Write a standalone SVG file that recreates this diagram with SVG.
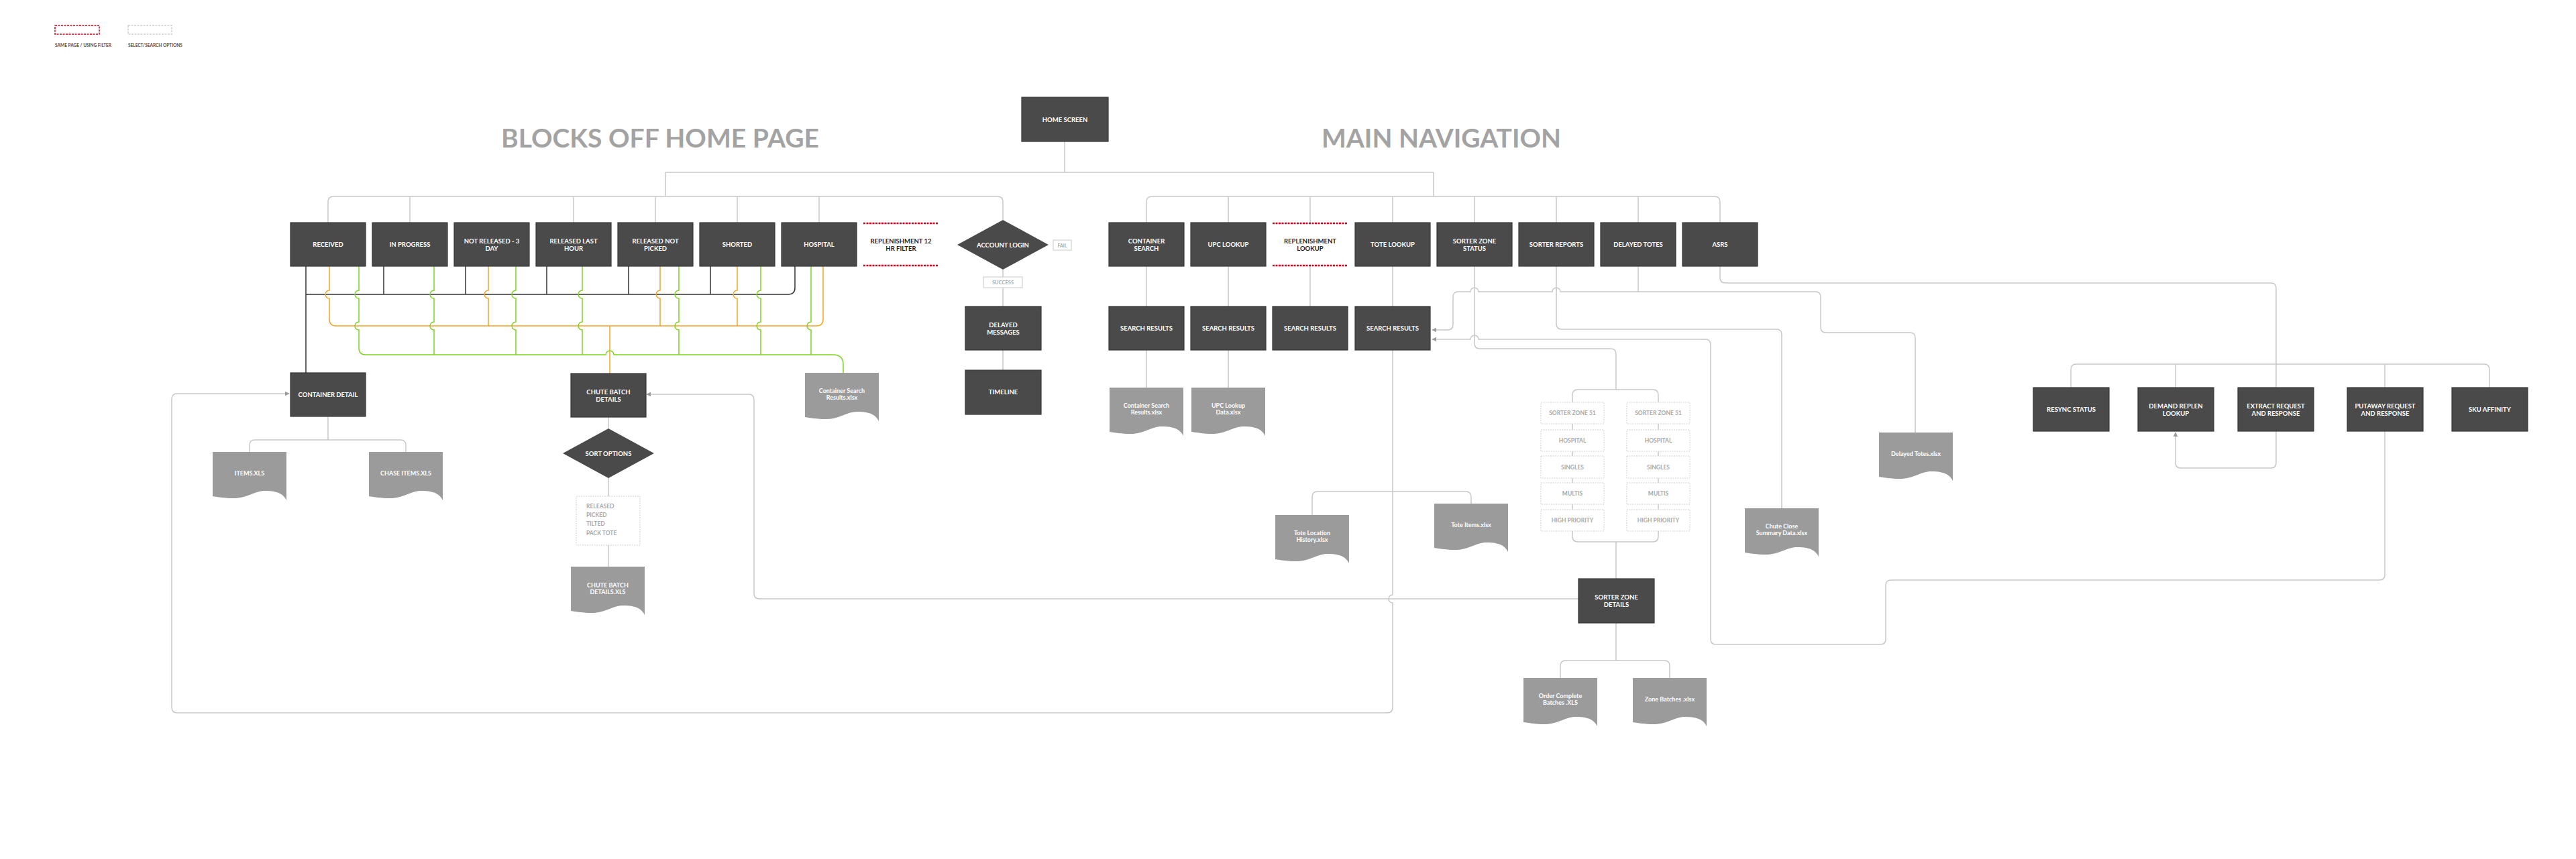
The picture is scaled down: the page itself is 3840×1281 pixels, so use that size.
<svg xmlns="http://www.w3.org/2000/svg" xmlns:xlink="http://www.w3.org/1999/xlink" width="3840" height="1281" viewBox="0 0 3840 1281">
<style>
text{font-family:Lato,"Open Sans","DejaVu Sans",sans-serif;font-weight:700}
.box{fill:#4a4a4a;stroke:#383838;stroke-width:1.2}
.doc{fill:#9b9b9b}
.bt{fill:#fff;font-size:9.5px;text-anchor:middle}
.dt{fill:#fff;font-size:9px;text-anchor:middle}
.rt{fill:#1e1e1e;font-size:9.5px;text-anchor:middle}
.gt{fill:#a8a8a8;font-size:8.5px;text-anchor:middle}
.opt{fill:#a8a8a8;font-size:8.5px}
.title{fill:#a3a3a3;font-size:38px}
.leg{fill:#555;font-size:6.5px}
.red{stroke:#d0021b;stroke-width:2.5;stroke-dasharray:3 1.5;fill:none}
.dash{fill:none;stroke:#cfcfcf;stroke-width:1;stroke-dasharray:2 1.5}
.c{fill:none;stroke:#c8c8c8;stroke-width:1.5}
.k{fill:none;stroke:#333;stroke-width:1.5}
.o{fill:none;stroke:#f5a623;stroke-width:1.5}
.g{fill:none;stroke:#7ed321;stroke-width:1.5}
.tag{fill:#fff;stroke:#d2d2d2;stroke-width:1.2}
</style>
<defs>
<marker id="ar" viewBox="0 0 10 10" refX="9" refY="5" markerWidth="7" markerHeight="7" markerUnits="userSpaceOnUse" orient="auto">
<path d="M0 0 L10 5 L0 10 Z" fill="#9b9b9b"/>
</marker>
<path id="docshape" d="M0 0 H110 V72 C106 64 99 58 78 58 C62 58 52 69 31 69 C18 69 8 67 0 66 Z"/>
</defs>

<!-- legend -->
<g id="legend">
<rect x="82" y="38" width="66" height="13" fill="none" stroke="#d0021b" stroke-width="1.5" stroke-dasharray="3 1.5"/>
<rect x="191" y="38" width="65" height="13" fill="none" stroke="#cfcfcf" stroke-width="1.5" stroke-dasharray="3 1.5"/>
<text class="leg" x="82" y="70">SAME PAGE / USING FILTER</text>
<text class="leg" x="191" y="70">SELECT/SEARCH OPTIONS</text>
</g>

<!-- titles -->
<text class="title" x="747" y="220" textLength="474" lengthAdjust="spacingAndGlyphs">BLOCKS OFF HOME PAGE</text>
<text class="title" x="1970" y="220" textLength="357" lengthAdjust="spacingAndGlyphs">MAIN NAVIGATION</text>

<!-- connectors -->
<g id="connectors">
<!-- gray tree lines -->
<path class="c" d="M1587 211 V257 M992 257 H2137 M992 257 V293 M2137 257 V293"/>
<path class="c" d="M489 332 V301 Q489 293 497 293 H1487 Q1495 293 1495 301 V328 M611 293 V332 M855 293 V332 M977 293 V332 M1099 293 V332 M1221 293 V332"/>
<path class="c" d="M1709 332 V301 Q1709 293 1717 293 H2556 Q2564 293 2564 301 V332 M1831 293 V332 M1953 293 V332 M2076 293 V332 M2198 293 V332 M2320 293 V332 M2442 293 V332"/>
<path class="c" d="M1495 402 V413 M1495 429 V457 M1495 522 V552"/>
<path class="c" d="M1709 397 V457 M1831 397 V457 M1953 397 V457 M2076 397 V457 M1709 522 V578 M1831 522 V578"/>
<path class="c" marker-end="url(#ar)" d="M2076 522 V887 A6 6 0 0 0 2076 899 V1055 Q2076 1063 2068 1063 H264 Q256 1063 256 1055 V595 Q256 587 264 587 H431"/>
<path class="c" d="M1956 768 V741 Q1956 733 1964 733 H2185 Q2193 733 2193 741 V751"/>
<path class="c" marker-end="url(#ar)" d="M2353 893 H1132 Q1124 893 1124 885 V596 Q1124 588 1116 588 H964"/>
<path class="c" d="M489 621 V656 M372 674 V664 Q372 656 380 656 H597 Q605 656 605 664 V674"/>
<path class="c" d="M907 622 V639 M907 713 V740 M907 813 V845"/>
<path class="c" d="M2198 397 V512 Q2198 520 2206 520 H2401 Q2409 520 2409 528 V581 M2344 600 V589 Q2344 581 2352 581 H2464 Q2472 581 2472 589 V600"/>
<path class="c" d="M2344 632 V641 M2344 673 V680 M2344 713 V720 M2344 752 V760 M2472 632 V641 M2472 673 V680 M2472 713 V720 M2472 752 V760"/>
<path class="c" d="M2344 792 V800 Q2344 808 2352 808 H2464 Q2472 808 2472 800 V792 M2409 808 V863"/>
<path class="c" d="M2320 397 V483 Q2320 491 2328 491 H2648 Q2656 491 2656 499 V758"/>
<path class="c" marker-end="url(#ar)" d="M2442 397 V435 H2326 A6 6 0 0 0 2314 435 H2204 A6 6 0 0 0 2192 435 H2174 Q2166 435 2166 443 V484 Q2166 492 2158 492 H2135"/>
<path class="c" d="M2442 435 H2706 Q2714 435 2714 443 V488 Q2714 496 2722 496 H2847 Q2855 496 2855 504 V645"/>
<path class="c" marker-end="url(#ar)" d="M3555 643 V857 Q3555 865 3547 865 H2819 Q2811 865 2811 873 V953 Q2811 961 2803 961 H2558 Q2550 961 2550 953 V514 Q2550 506 2542 506 H2204 A6 6 0 0 0 2192 506 H2135"/>
<path class="c" d="M2564 397 V414 Q2564 422 2572 422 H3385 Q3393 422 3393 430 V578"/>
<path class="c" d="M3087 578 V551 Q3087 543 3095 543 H3703 Q3711 543 3711 551 V578 M3243 543 V578 M3555 543 V578"/>
<path class="c" marker-end="url(#ar)" d="M3393 643 V690 Q3393 698 3385 698 H3251 Q3243 698 3243 690 V645"/>
<path class="c" d="M2409 929 V985 M2326 1011 V993 Q2326 985 2334 985 H2481 Q2489 985 2489 993 V1011"/>
<!-- black -->
<path class="k" d="M456 397 V556 M456 439 H1175 Q1185 439 1185 429 V397 M572 397 V439 M694 397 V439 M815 397 V439 M937 397 V439 M1059 397 V439"/>
<!-- orange -->
<path class="o" d="M491 397 V433 A6 6 0 0 0 491 445 V476 Q491 486 501 486 H1217 Q1227 486 1227 476 V397"/>
<path class="o" d="M728 397 V433 A6 6 0 0 0 728 445 V486 M984 397 V433 A6 6 0 0 0 984 445 V486 M1099 397 V433 A6 6 0 0 0 1099 445 V486 M909 486 V557"/>
<!-- green -->
<path class="g" d="M535 397 V433 A6 6 0 0 0 535 445 V480 A6 6 0 0 0 535 492 V519 Q535 529 545 529 H903 A6 6 0 0 1 915 529 H1242 Q1257 529 1257 544 V556"/>
<path class="g" d="M647 397 V433 A6 6 0 0 0 647 445 V480 A6 6 0 0 0 647 492 V529 M769 397 V433 A6 6 0 0 0 769 445 V480 A6 6 0 0 0 769 492 V529 M868 397 V433 A6 6 0 0 0 868 445 V480 A6 6 0 0 0 868 492 V529 M1012 397 V433 A6 6 0 0 0 1012 445 V480 A6 6 0 0 0 1012 492 V529 M1134 397 V433 A6 6 0 0 0 1134 445 V480 A6 6 0 0 0 1134 492 V529 M1209 397 V480 A6 6 0 0 0 1209 492 V529"/>
</g>

<!-- nodes -->
<g id="home-screen"><rect class="box" x="1523" y="145" width="129" height="66"/><text class="bt" x="1587.5" y="181.5">HOME SCREEN</text></g>

<g id="received"><rect class="box" x="433" y="332" width="112" height="65"/><text class="bt" x="489" y="368">RECEIVED</text></g>
<g id="in-progress"><rect class="box" x="555" y="332" width="112" height="65"/><text class="bt" x="611" y="368">IN PROGRESS</text></g>
<g id="not-released"><rect class="box" x="677" y="332" width="112" height="65"/><text class="bt" x="733" y="363">NOT RELEASED - 3</text><text class="bt" x="733" y="373.5">DAY</text></g>
<g id="released-last-hour"><rect class="box" x="799" y="332" width="112" height="65"/><text class="bt" x="855" y="363">RELEASED LAST</text><text class="bt" x="855" y="373.5">HOUR</text></g>
<g id="released-not-picked"><rect class="box" x="921" y="332" width="112" height="65"/><text class="bt" x="977" y="363">RELEASED NOT</text><text class="bt" x="977" y="373.5">PICKED</text></g>
<g id="shorted"><rect class="box" x="1043" y="332" width="112" height="65"/><text class="bt" x="1099" y="368">SHORTED</text></g>
<g id="hospital"><rect class="box" x="1165" y="332" width="112" height="65"/><text class="bt" x="1221" y="368">HOSPITAL</text></g>
<g id="replen-12hr"><path class="red" d="M1287 333 H1399 M1287 396 H1399"/><text class="rt" x="1343" y="363">REPLENISHMENT 12</text><text class="rt" x="1343" y="373.5">HR FILTER</text></g>

<g id="account-login"><polygon points="1495,328 1563,365 1495,402 1427,365" fill="#4a4a4a"/><text class="bt" x="1495" y="368.5">ACCOUNT LOGIN</text></g>
<g id="fail"><rect class="tag" x="1570" y="358" width="27" height="15"/><text class="gt" x="1583.5" y="368.5" style="font-size:7px">FAIL</text></g>
<g id="success"><rect class="tag" x="1466" y="413" width="58" height="16"/><text class="gt" x="1495" y="424" style="font-size:7.5px">SUCCESS</text></g>
<g id="delayed-messages"><rect class="box" x="1439" y="457" width="113" height="65"/><text class="bt" x="1495.5" y="488">DELAYED</text><text class="bt" x="1495.5" y="498.5">MESSAGES</text></g>
<g id="timeline"><rect class="box" x="1439" y="552" width="113" height="66"/><text class="bt" x="1495.5" y="588">TIMELINE</text></g>

<g id="container-search"><rect class="box" x="1653" y="332" width="112" height="65"/><text class="bt" x="1709" y="363">CONTAINER</text><text class="bt" x="1709" y="373.5">SEARCH</text></g>
<g id="upc-lookup"><rect class="box" x="1775" y="332" width="112" height="65"/><text class="bt" x="1831" y="368">UPC LOOKUP</text></g>
<g id="replen-lookup"><path class="red" d="M1897 333 H2009 M1897 396 H2009"/><text class="rt" x="1953" y="363">REPLENISHMENT</text><text class="rt" x="1953" y="373.5">LOOKUP</text></g>
<g id="tote-lookup"><rect class="box" x="2020" y="332" width="112" height="65"/><text class="bt" x="2076" y="368">TOTE LOOKUP</text></g>
<g id="sorter-zone-status"><rect class="box" x="2142" y="332" width="112" height="65"/><text class="bt" x="2198" y="363">SORTER ZONE</text><text class="bt" x="2198" y="373.5">STATUS</text></g>
<g id="sorter-reports"><rect class="box" x="2264" y="332" width="112" height="65"/><text class="bt" x="2320" y="368">SORTER REPORTS</text></g>
<g id="delayed-totes"><rect class="box" x="2386" y="332" width="112" height="65"/><text class="bt" x="2442" y="368">DELAYED TOTES</text></g>
<g id="asrs"><rect class="box" x="2508" y="332" width="112" height="65"/><text class="bt" x="2564" y="368">ASRS</text></g>

<g id="sr-container"><rect class="box" x="1653" y="457" width="112" height="65"/><text class="bt" x="1709" y="493">SEARCH RESULTS</text></g>
<g id="sr-upc"><rect class="box" x="1775" y="457" width="112" height="65"/><text class="bt" x="1831" y="493">SEARCH RESULTS</text></g>
<g id="sr-replen"><rect class="box" x="1897" y="457" width="112" height="65"/><text class="bt" x="1953" y="493">SEARCH RESULTS</text></g>
<g id="sr-tote"><rect class="box" x="2020" y="457" width="112" height="65"/><text class="bt" x="2076" y="493">SEARCH RESULTS</text></g>

<g id="container-detail"><rect class="box" x="433" y="556" width="112" height="65"/><text class="bt" x="489" y="592">CONTAINER DETAIL</text></g>
<g id="chute-batch-details"><rect class="box" x="851" y="557" width="112" height="65"/><text class="bt" x="907" y="588">CHUTE BATCH</text><text class="bt" x="907" y="598.5">DETAILS</text></g>
<g id="sort-options"><polygon points="907,639 975,676 907,713 839,676" fill="#4a4a4a"/><text class="bt" x="907" y="679.5">SORT OPTIONS</text></g>
<g id="sort-list"><rect class="dash" x="859" y="740" width="95" height="73"/><text class="opt" x="874" y="757.5">RELEASED</text><text class="opt" x="874" y="771">PICKED</text><text class="opt" x="874" y="784">TILTED</text><text class="opt" x="874" y="797.5">PACK TOTE</text></g>

<g id="doc-items"><use href="#docshape" class="doc" x="317" y="674"/><text class="dt" x="372" y="709">ITEMS.XLS</text></g>
<g id="doc-chase"><use href="#docshape" class="doc" x="550" y="674"/><text class="dt" x="605" y="709">CHASE ITEMS.XLS</text></g>
<g id="doc-csr-left"><use href="#docshape" class="doc" x="1200" y="556"/><text class="dt" x="1255" y="585.5">Container Search</text><text class="dt" x="1255" y="596">Results.xlsx</text></g>
<g id="doc-chute-batch"><use href="#docshape" class="doc" x="851" y="845"/><text class="dt" x="906" y="875.5">CHUTE BATCH</text><text class="dt" x="906" y="886">DETAILS.XLS</text></g>
<g id="doc-csr"><use href="#docshape" class="doc" x="1654" y="578"/><text class="dt" x="1709" y="607.5">Container Search</text><text class="dt" x="1709" y="618">Results.xlsx</text></g>
<g id="doc-upc"><use href="#docshape" class="doc" x="1776" y="578"/><text class="dt" x="1831" y="607.5">UPC Lookup</text><text class="dt" x="1831" y="618">Data.xlsx</text></g>
<g id="doc-tote-location"><use href="#docshape" class="doc" x="1901" y="768"/><text class="dt" x="1956" y="797.5">Tote Location</text><text class="dt" x="1956" y="808">History.xlsx</text></g>
<g id="doc-tote-items"><use href="#docshape" class="doc" x="2138" y="751"/><text class="dt" x="2193" y="785.5">Tote Items.xlsx</text></g>
<g id="doc-chute-close"><use href="#docshape" class="doc" x="2601" y="758"/><text class="dt" x="2656" y="787.5">Chute Close</text><text class="dt" x="2656" y="798">Summary Data.xlsx</text></g>
<g id="doc-delayed-totes"><use href="#docshape" class="doc" x="2801" y="645"/><text class="dt" x="2856" y="680">Delayed Totes.xlsx</text></g>
<g id="doc-order-complete"><use href="#docshape" class="doc" x="2271" y="1011"/><text class="dt" x="2326" y="1040.5">Order Complete</text><text class="dt" x="2326" y="1051">Batches .XLS</text></g>
<g id="doc-zone-batches"><use href="#docshape" class="doc" x="2434" y="1011"/><text class="dt" x="2489" y="1046">Zone Batches .xlsx</text></g>

<g id="sorter-zone-stack-1">
<rect class="dash" x="2297" y="600" width="94" height="32"/><text class="gt" x="2344" y="619">SORTER ZONE 51</text>
<rect class="dash" x="2297" y="641" width="94" height="32"/><text class="gt" x="2344" y="660">HOSPITAL</text>
<rect class="dash" x="2297" y="680" width="94" height="33"/><text class="gt" x="2344" y="699.5">SINGLES</text>
<rect class="dash" x="2297" y="720" width="94" height="32"/><text class="gt" x="2344" y="739">MULTIS</text>
<rect class="dash" x="2297" y="760" width="94" height="32"/><text class="gt" x="2344" y="779">HIGH PRIORITY</text>
</g>
<g id="sorter-zone-stack-2">
<rect class="dash" x="2425" y="600" width="94" height="32"/><text class="gt" x="2472" y="619">SORTER ZONE 51</text>
<rect class="dash" x="2425" y="641" width="94" height="32"/><text class="gt" x="2472" y="660">HOSPITAL</text>
<rect class="dash" x="2425" y="680" width="94" height="33"/><text class="gt" x="2472" y="699.5">SINGLES</text>
<rect class="dash" x="2425" y="720" width="94" height="32"/><text class="gt" x="2472" y="739">MULTIS</text>
<rect class="dash" x="2425" y="760" width="94" height="32"/><text class="gt" x="2472" y="779">HIGH PRIORITY</text>
</g>
<g id="sorter-zone-details"><rect class="box" x="2353" y="863" width="113" height="66"/><text class="bt" x="2409.5" y="894">SORTER ZONE</text><text class="bt" x="2409.5" y="904.5">DETAILS</text></g>

<g id="resync-status"><rect class="box" x="3031" y="578" width="113" height="65"/><text class="bt" x="3087.5" y="614">RESYNC STATUS</text></g>
<g id="demand-replen"><rect class="box" x="3187" y="578" width="113" height="65"/><text class="bt" x="3243.5" y="609">DEMAND REPLEN</text><text class="bt" x="3243.5" y="619.5">LOOKUP</text></g>
<g id="extract-request"><rect class="box" x="3336" y="578" width="113" height="65"/><text class="bt" x="3392.5" y="609">EXTRACT REQUEST</text><text class="bt" x="3392.5" y="619.5">AND RESPONSE</text></g>
<g id="putaway-request"><rect class="box" x="3499" y="578" width="113" height="65"/><text class="bt" x="3555.5" y="609">PUTAWAY REQUEST</text><text class="bt" x="3555.5" y="619.5">AND RESPONSE</text></g>
<g id="sku-affinity"><rect class="box" x="3655" y="578" width="113" height="65"/><text class="bt" x="3711.5" y="614">SKU AFFINITY</text></g>
</svg>
